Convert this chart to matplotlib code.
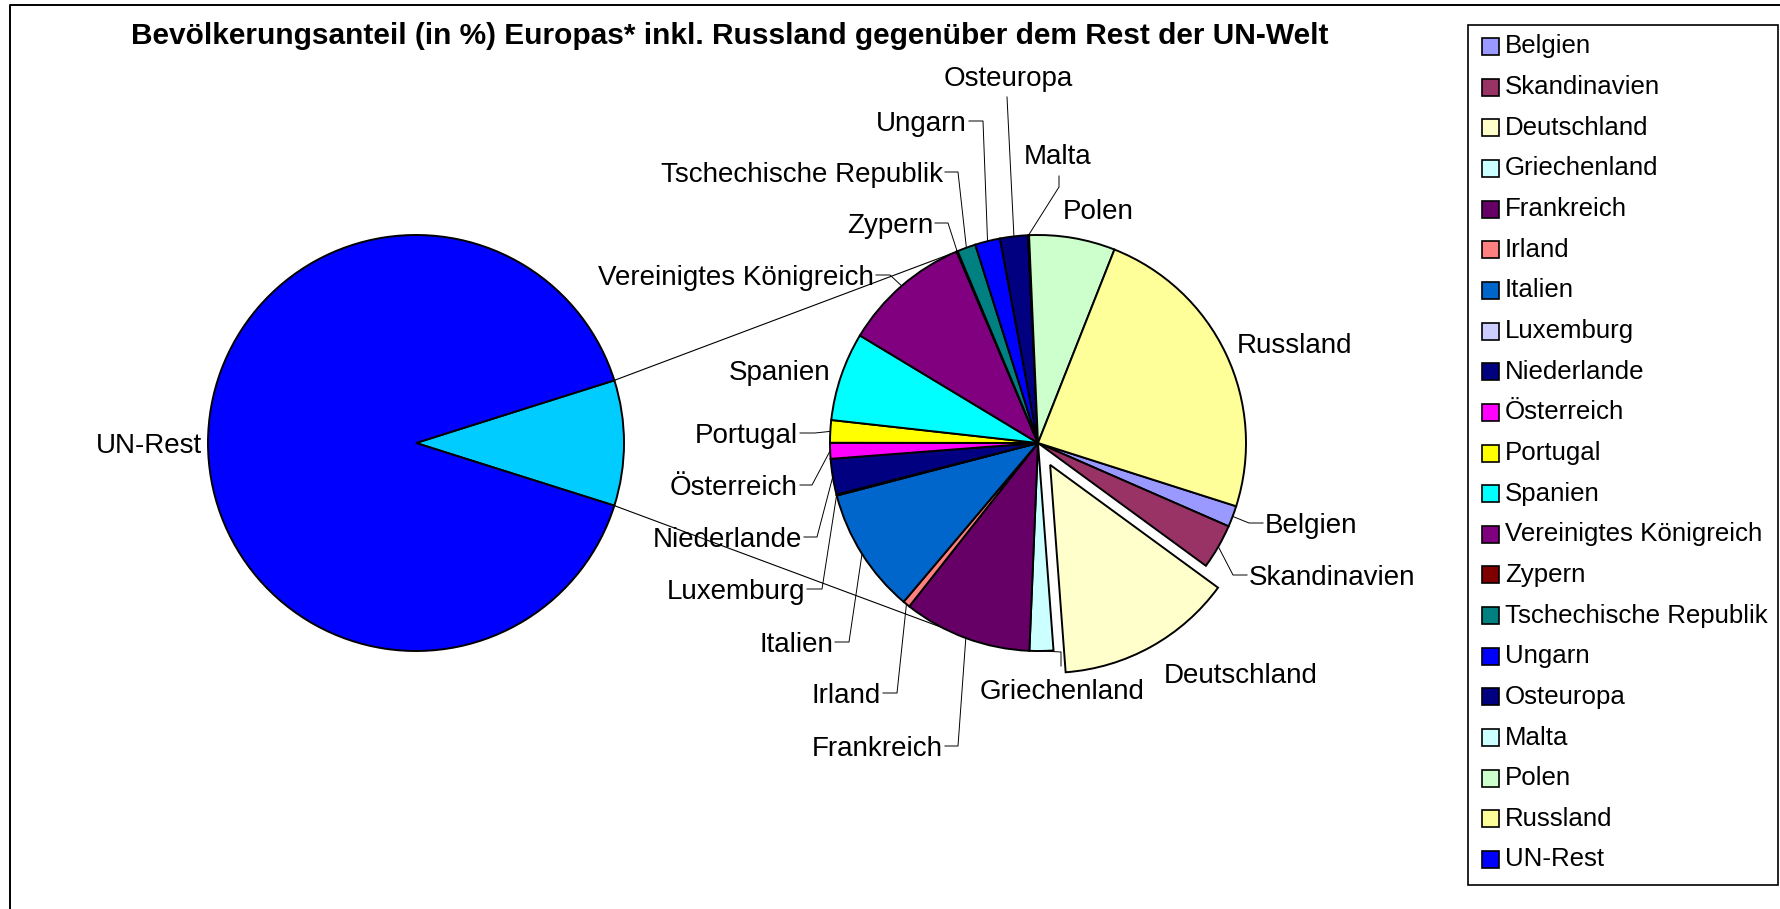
import matplotlib.pyplot as plt
from matplotlib.patches import Rectangle
import numpy as np

W, H = 1781, 909

# --- data (share of world population in %) ---
countries = ["Belgien", "Skandinavien", "Deutschland", "Griechenland", "Frankreich",
             "Irland", "Italien", "Luxemburg", "Niederlande", "Österreich",
             "Portugal", "Spanien", "Vereinigtes Königreich", "Zypern",
             "Tschechische Republik", "Ungarn", "Osteuropa", "Malta", "Polen", "Russland"]
shares = [0.16, 0.34, 1.34, 0.18, 0.97,
          0.054, 0.95, 0.008, 0.27, 0.12,
          0.17, 0.67, 0.97, 0.008,
          0.14, 0.19, 0.21, 0.008, 0.65, 2.33]
colors = ["#9999FF", "#993366", "#FFFFCC", "#CCFFFF", "#660066",
          "#FF8080", "#0066CC", "#CCCCFF", "#000080", "#FF00FF",
          "#FFFF00", "#00FFFF", "#800080", "#800000",
          "#008080", "#0000FF", "#000080", "#CCFFFF", "#CCFFCC", "#FFFF99"]
un_rest = 90.26
un_rest_label = "UN-Rest"
un_rest_color = "#0000FF"
europe_color = "#00CCFF"

title = "Bevölkerungsanteil (in %) Europas* inkl. Russland gegenüber dem Rest der UN-Welt"


def img(x, y):
    # picture pixel (y down) -> data coords (y up)
    return x, H - y


plt.rcParams['font.family'] = ['Liberation Sans', 'DejaVu Sans']

fig = plt.figure(figsize=(W / 100, H / 100), dpi=100)
ax = fig.add_axes([0, 0, 1, 1])

r = 208
c_left = img(416, 443)
c_right = img(1038, 443)
edge = dict(edgecolor='black', linewidth=1.4)

# ------ left pie: Europe vs rest ------
europe = sum(shares)
europe_deg = europe / (europe + un_rest) * 360
left_wedges, _ = ax.pie([europe, un_rest], colors=[europe_color, un_rest_color],
                        center=c_left, radius=r, startangle=-europe_deg / 2,
                        wedgeprops=edge, frame=True)

# ------ right pie: Europe split ------
explode = [25 if c == "Deutschland" else 0 for c in countries]
right_wedges, _ = ax.pie(shares, colors=colors, center=c_right, radius=r,
                         startangle=-17.7, counterclock=False, explode=explode,
                         wedgeprops=edge, frame=True)

# connector lines between the two pies
ew = left_wedges[0]
for th_left, th_right in [(ew.theta2, 113.8), (ew.theta1, -117.5)]:
    x0 = c_left[0] + r * np.cos(np.radians(th_left))
    y0 = c_left[1] + r * np.sin(np.radians(th_left))
    x1 = c_right[0] + r * np.cos(np.radians(th_right))
    y1 = c_right[1] + r * np.sin(np.radians(th_right))
    ax.plot([x0, x1], [y0, y1], color='black', lw=0.8, zorder=3)

# ------ labels with leader lines (x, y, ha, elbow points in picture px) ------
label_layout = {
    "Osteuropa": (1008, 76, 'center', [(1007, 97)]),
    "Ungarn": (967, 121, 'right', [(969, 121), (983, 121)]),
    "Malta": (1058, 154, 'center', [(1059, 176), (1059, 187)]),
    "Tschechische Republik": (943, 172, 'right', [(945, 172), (958, 172)]),
    "Zypern": (933, 223, 'right', [(935, 223), (948, 223)]),
    "Polen": (1098, 209, 'center', []),
    "Vereinigtes Königreich": (874, 275, 'right', [(876, 275), (890, 275)]),
    "Russland": (1295, 343, 'center', []),
    "Spanien": (780, 370, 'center', []),
    "Portugal": (798, 433, 'right', [(800, 433), (815, 433)]),
    "Österreich": (798, 485, 'right', [(800, 485), (812, 485)]),
    "Niederlande": (802, 537, 'right', [(804, 537), (817, 537)]),
    "Luxemburg": (805, 589, 'right', [(807, 589), (822, 589)]),
    "Italien": (833, 642, 'right', [(835, 642), (849, 642)]),
    "Irland": (881, 693, 'right', [(883, 693), (897, 693)]),
    "Frankreich": (943, 746, 'right', [(945, 746), (958, 746)]),
    "Griechenland": (1062, 689, 'center', [(1061, 666), (1061, 652)]),
    "Deutschland": (1241, 673, 'center', []),
    "Belgien": (1265, 523, 'left', [(1263, 523), (1249, 523)]),
    "Skandinavien": (1249, 575, 'left', [(1247, 575), (1233, 575)]),
}

for name, w in zip(countries, right_wedges):
    x, y, ha, pts = label_layout[name]
    ax.text(*img(x, y + 3), name, ha=ha, va='center', fontsize=20, zorder=4)
    if pts:
        mid = np.radians((w.theta1 + w.theta2) / 2)
        xs = [img(*p)[0] for p in pts] + [w.center[0] + w.r * np.cos(mid)]
        ys = [img(*p)[1] for p in pts] + [w.center[1] + w.r * np.sin(mid)]
        ax.plot(xs, ys, color='black', lw=0.7, zorder=3)

ax.text(*img(149, 446), un_rest_label, ha='center', va='center', fontsize=20)

# ------ title ------
ax.text(*img(730, 36), title, ha='center', va='center', fontsize=21.5, fontweight='bold')

# ------ legend ------
ax.add_patch(Rectangle(img(1468, 885), 310, 860, facecolor='white', edgecolor='black', lw=1.2))
for i, (name, col) in enumerate(zip(countries + [un_rest_label], colors + [un_rest_color])):
    yc = 44 + i * 40.65
    ax.add_patch(Rectangle(img(1482, yc + 11), 17, 17, facecolor=col, edgecolor='black', lw=1.2))
    ax.text(*img(1505, yc + 2.5), name, ha='left', va='center', fontsize=18.6)

# chart frame
ax.plot([10, 10, W], [0, H - 5, H - 5], color='black', lw=1.4)

ax.set_xlim(0, W)
ax.set_ylim(0, H)
ax.set_aspect('auto')
ax.axis('off')

fig.savefig("out.png", dpi=100)
